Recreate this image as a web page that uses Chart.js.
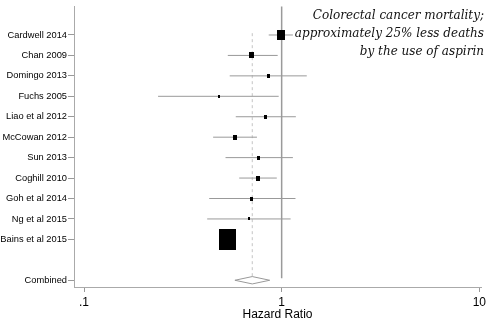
<!DOCTYPE html>
<html>
<head>
<meta charset="utf-8">
<script src="https://cdn.jsdelivr.net/npm/chart.js@4/dist/chart.umd.min.js"></script>
<style>
  html, body { margin: 0; padding: 0; background: #fff; }
  #wrap { position: relative; width: 490px; height: 324px; }
  #note {
    position: absolute; right: 6px; top: 6px;
    font-family: "DejaVu Serif", serif; font-style: italic;
    font-size: 12px; line-height: 18px; text-align: right; color: #111;
  }
</style>
</head>
<body>
<div id="wrap">
  <canvas id="forest" width="490" height="324"></canvas>
  <div id="note">Colorectal cancer mortality;<br>approximately 25% less deaths<br>by the use of aspirin</div>
</div>
<script>
// studies, top to bottom
const studies = ['Cardwell 2014', 'Chan 2009', 'Domingo 2013', 'Fuchs 2005', 'Liao et al 2012',
    'McCowan 2012', 'Sun 2013', 'Coghill 2010', 'Goh et al 2014', 'Ng et al 2015', 'Bains et al 2015'];
const hr = [0.99, 0.705, 0.86, 0.48, 0.83, 0.58, 0.765, 0.76, 0.705, 0.68, 0.53];
const ciLow = [0.86, 0.534, 0.546, 0.237, 0.586, 0.45, 0.52, 0.61, 0.43, 0.42, 0.50];
const ciHigh = [1.14, 0.955, 1.34, 0.966, 1.18, 0.75, 1.14, 0.945, 1.175, 1.11, 0.56];
const weights = [15.4, 4.4, 2.1, 0.7, 2.6, 3.5, 2.1, 4.2, 1.6, 1.0, 62.4];

const combined = { label: 'Combined', hr: 0.71, low: 0.58, high: 0.87 };
const xTicks = [0.1, 1, 10];

// row positions: first study at 12, combined at 0
const rowY = studies.map((s, i) => 12 - i);

function boxImage(w) {
    const bw = Math.max(2, Math.round(2.15 * Math.sqrt(w)));
    const bh = Math.max(2, Math.round(bw * 1.25));
    const c = document.createElement('canvas');
    c.width = bw;
    c.height = bh;
    const g = c.getContext('2d');
    g.fillStyle = '#000';
    g.fillRect(0, 0, bw, bh);
    return c;
}

const datasets = [];

// confidence intervals
studies.forEach((s, i) => {
    datasets.push({
        data: [{ x: ciLow[i], y: rowY[i] }, { x: ciHigh[i], y: rowY[i] }],
        showLine: true,
        borderColor: '#999',
        borderWidth: 1,
        pointRadius: 0,
        order: 3
    });
});

// study boxes
datasets.push({
    data: studies.map((s, i) => ({ x: hr[i], y: rowY[i] })),
    pointStyle: weights.map(boxImage),
    pointRadius: 5,
    order: 0
});

// line of no effect
datasets.push({
    data: [{ x: 1, y: 0.1 }, { x: 1, y: 13.5 }],
    showLine: true,
    borderColor: '#9a9a9a',
    borderWidth: 1.5,
    pointRadius: 0,
    order: 4
});

// combined estimate line
datasets.push({
    data: [{ x: combined.hr, y: 0.2 }, { x: combined.hr, y: 12.2 }],
    showLine: true,
    borderColor: '#c4c4c4',
    borderWidth: 1,
    borderDash: [3, 3],
    pointRadius: 0,
    order: 5
});

// combined diamond
datasets.push({
    data: [
        { x: combined.low, y: 0 },
        { x: combined.hr, y: 0.18 },
        { x: combined.high, y: 0 },
        { x: combined.hr, y: -0.18 },
        { x: combined.low, y: 0 }
    ],
    showLine: true,
    borderColor: '#999',
    backgroundColor: '#fff',
    fill: true,
    borderWidth: 1,
    pointRadius: 0,
    order: 1
});

const labelFor = {};
studies.forEach((s, i) => labelFor[rowY[i]] = s);
labelFor[0] = combined.label;

new Chart(document.getElementById('forest'), {
    type: 'scatter',
    data: { datasets: datasets },
    options: {
        responsive: false,
        animation: false,
        layout: { padding: { left: 0, right: 9, top: 0, bottom: 2 } },
        plugins: { legend: { display: false }, tooltip: { enabled: false } },
        scales: {
            x: {
                type: 'logarithmic',
                min: 0.089,
                max: 10.2,
                afterBuildTicks: (scale) => { scale.ticks = xTicks.map(v => ({ value: v })); },
                afterFit: (scale) => { scale.height = 35; },
                ticks: {
                    color: '#000',
                    font: { family: 'Liberation Sans', size: 12 },
                    padding: 3,
                    maxRotation: 0,
                    callback: (v) => v === 0.1 ? '.1' : String(v)
                },
                grid: { drawOnChartArea: false, tickLength: 5, color: '#999' },
                border: { color: '#aaa' },
                title: {
                    display: true,
                    text: 'Hazard Ratio',
                    color: '#000',
                    font: { family: 'Liberation Sans', size: 12 },
                    padding: { top: 0, bottom: 0 }
                }
            },
            y: {
                min: -0.33,
                max: 13.39,
                afterBuildTicks: (scale) => {
                    scale.ticks = [0].concat(rowY).map(v => ({ value: v }));
                },
                afterFit: (scale) => { scale.width = 74; },
                ticks: {
                    color: '#000',
                    font: { family: 'Liberation Sans', size: 9.3 },
                    padding: 1,
                    callback: (v) => labelFor[v] || ''
                },
                grid: { drawOnChartArea: false, tickLength: 6, color: '#999' },
                border: { color: '#aaa' }
            }
        }
    }
});
</script>
</body>
</html>
